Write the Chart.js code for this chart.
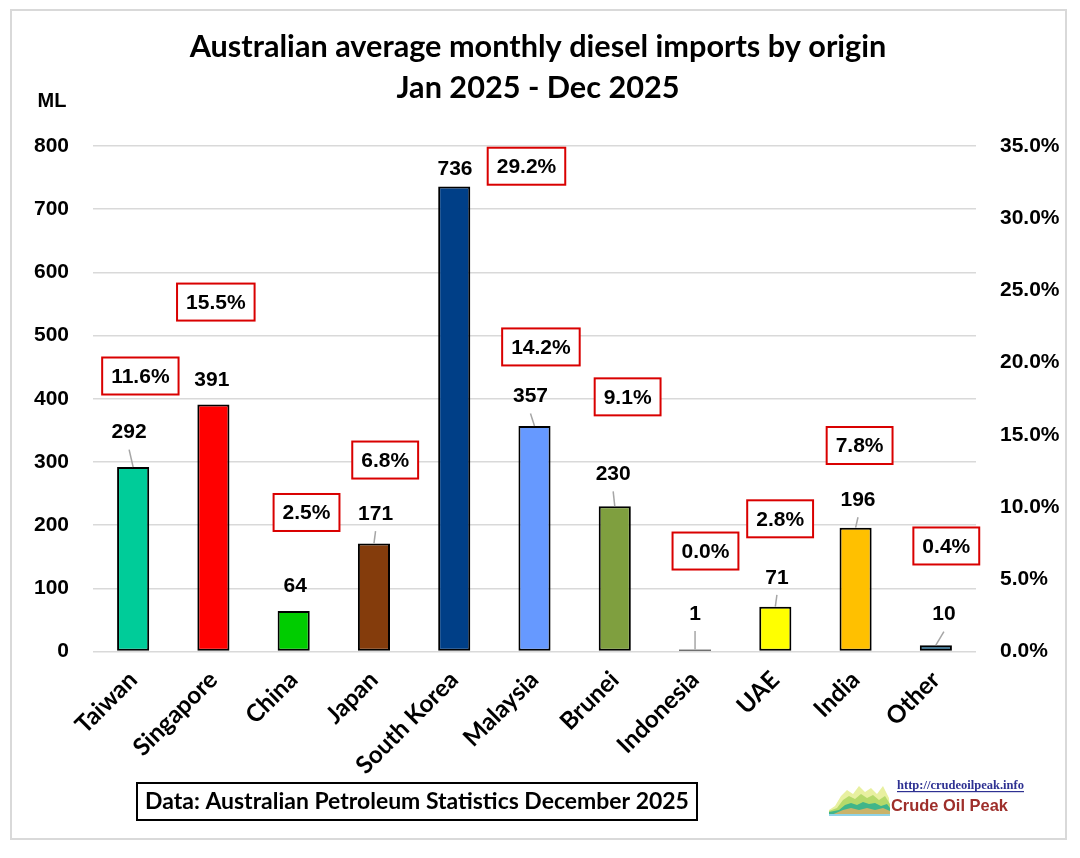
<!DOCTYPE html>
<html><head><meta charset="utf-8">
<script src="https://cdn.jsdelivr.net/npm/chart.js@4.4.1/dist/chart.umd.min.js"></script>
<style>html,body{margin:0;padding:0;background:#fff;overflow:hidden}</style>
</head><body>
<canvas id="c" width="1080" height="858" style="width:1080px;height:858px;display:block"></canvas>
<script>
// ---------- data ----------
const categories = ['Taiwan','Singapore','China','Japan','South Korea','Malaysia','Brunei','Indonesia','UAE','India','Other'];
const importsML = [292, 391, 64, 171, 736, 357, 230, 1, 71, 196, 10];
const sharePct = [11.6, 15.5, 2.5, 6.8, 29.2, 14.2, 9.1, 0.0, 2.8, 7.8, 0.4];
const leftTicks = [0, 100, 200, 300, 400, 500, 600, 700, 800];
const rightTicks = [0, 5, 10, 15, 20, 25, 30, 35];
const titleLines = ['Australian average monthly diesel imports by origin', 'Jan 2025 - Dec 2025'];
const sourceText = 'Data: Australian Petroleum Statistics December 2025';

// ---------- styles / label placement (kept apart from data) ----------
const barColors = ['#00CC99','#FF0000','#00CC00','#843C0C','#003F87','#6699FF','#7F9F3F','#1F1F1F','#FFFF00','#FFC000','#1F5F82'];
const valueLabelY = [348, 431, 105, 219, 765, 405, 282, 61, 118, 241, 60];      // in ML axis units
const valueLabelShift = [-0.05, -0.02, 0.02, 0.02, 0.01, -0.05, -0.02, 0, 0.02, 0.03, 0.1]; // fraction of category
const shareBoxY = [436, 553, 220, 303, 768, 482, 403, 159, 210, 326, 167];       // in ML axis units
const shareBoxShift = [0.09, 0.03, 0.16, 0.14, 0.9, 0.08, 0.16, 0.13, 0.06, 0.05, 0.13];

const SANS = 'Lato, "Open Sans", sans-serif';
const ARIAL = '"Liberation Sans", Arial, sans-serif';

function fitSize(text, weight, family, target) {
  const cx = document.createElement('canvas').getContext('2d');
  cx.font = weight + ' 100px ' + family;
  return 100 * target / cx.measureText(text).width;
}
const titleSize = fitSize(titleLines[0], 'bold', SANS, 697);
const sourceSize = fitSize(sourceText, 'bold', SANS, 544);
const catSize = fitSize('South Korea', 'bold', SANS, 133);
const urlSize = fitSize('http://crudeoilpeak.info', 'bold', '"Liberation Serif", serif', 127);
const copSize = fitSize('Crude Oil Peak', 'bold', '"Liberation Sans Narrow", ' + ARIAL, 117);

const decor = {
  id: 'decor',
  afterDraw(chart) {
    const ctx = chart.ctx;
    const x = chart.scales.x, y = chart.scales.y;
    const catW = (x.right - x.left) / categories.length;
    const meta = chart.getDatasetMeta(0);
    ctx.save();
    // outer frame
    ctx.strokeStyle = '#D9D9D9'; ctx.lineWidth = 2;
    ctx.strokeRect(11, 10, 1055, 829);
    // title
    ctx.fillStyle = '#000'; ctx.textAlign = 'center'; ctx.textBaseline = 'alphabetic';
    ctx.font = 'bold ' + titleSize.toFixed(2) + 'px ' + SANS;
    ctx.fillText(titleLines[0], 538, 57);
    ctx.fillText(titleLines[1], 538, 98);
    // ML unit
    ctx.font = 'bold 20px ' + ARIAL;
    ctx.fillText('ML', 52, 107);
    // leader lines + value labels
    ctx.font = 'bold 21px ' + ARIAL;
    ctx.textBaseline = 'middle';
    importsML.forEach((v, i) => {
      const bx = x.getPixelForValue(i);
      const top = meta.data[i].y;
      const lx = bx + valueLabelShift[i] * catW;
      const ly = y.getPixelForValue(valueLabelY[i]);
      if (top - ly > 27) {
        ctx.strokeStyle = '#A6A6A6'; ctx.lineWidth = 1.5;
        ctx.beginPath(); ctx.moveTo(lx, ly + 18); ctx.lineTo(bx, top); ctx.stroke();
      }
      ctx.fillStyle = '#000';
      ctx.fillText(String(v), lx, ly + 1);
    });
    // share boxes
    sharePct.forEach((p, i) => {
      const t = p.toFixed(1) + '%';
      const cxp = x.getPixelForValue(i) + shareBoxShift[i] * catW;
      const cyp = y.getPixelForValue(shareBoxY[i]);
      const w = ctx.measureText(t).width + 18, h = 37;
      ctx.fillStyle = '#fff';
      ctx.fillRect(cxp - w / 2, cyp - h / 2, w, h);
      ctx.strokeStyle = '#D90000'; ctx.lineWidth = 2;
      ctx.strokeRect(cxp - w / 2, cyp - h / 2, w, h);
      ctx.fillStyle = '#000';
      ctx.fillText(t, cxp, cyp + 1);
    });
    // source box
    ctx.strokeStyle = '#000'; ctx.lineWidth = 2;
    ctx.strokeRect(137, 783, 560, 37);
    ctx.font = 'bold ' + sourceSize.toFixed(2) + 'px ' + SANS;
    ctx.textBaseline = 'alphabetic';
    ctx.fillText(sourceText, 417, 809);
    // logo graphic
    const gx = 829, gy = 816;
    const layers = [
      ['#E8F0A0', [0,-6,6,-10,12,-20,18,-26,24,-22,30,-30,36,-24,42,-28,48,-22,54,-30,60,-18,61,0]],
      ['#B5D96A', [0,-5,8,-8,14,-16,20,-20,26,-17,32,-22,38,-18,44,-21,50,-16,56,-20,61,-12,61,0]],
      ['#3FB58A', [0,-4,10,-6,16,-11,22,-13,28,-11,34,-14,40,-12,46,-13,52,-10,58,-12,61,-8,61,0]],
      ['#C9B36A', [14,-6,22,-8,30,-6,38,-8,46,-6,54,-8,61,-5,61,0]],
      ['#8FD3E8', [0,-2,61,-2,61,0]]
    ];
    layers.forEach(([col, pts]) => {
      ctx.fillStyle = col; ctx.beginPath(); ctx.moveTo(gx, gy);
      for (let k = 0; k < pts.length; k += 2) ctx.lineTo(gx + pts[k], gy + pts[k + 1]);
      ctx.closePath(); ctx.fill();
    });
    ctx.textAlign = 'left';
    ctx.fillStyle = '#2E3192';
    ctx.font = 'bold ' + urlSize.toFixed(2) + 'px "Liberation Serif", serif';
    ctx.fillText('http://crudeoilpeak.info', 897, 789);
    ctx.fillRect(897, 791, 127, 1.2);
    ctx.fillStyle = '#9E2F2B';
    ctx.font = 'bold ' + copSize.toFixed(2) + 'px "Liberation Sans Narrow", ' + ARIAL;
    ctx.fillText('Crude Oil Peak', 891, 811);
    ctx.restore();
  }
};

new Chart(document.getElementById('c'), {
  type: 'bar',
  data: {
    labels: categories,
    datasets: [{
      data: importsML,
      backgroundColor: barColors,
      borderColor: '#000',
      borderWidth: 2,
      borderSkipped: false,
      minBarLength: 2,
      barPercentage: 0.4,
      categoryPercentage: 1.0,
      yAxisID: 'y'
    }]
  },
  options: {
    responsive: false,
    animation: false,
    devicePixelRatio: 1,
    layout: { padding: { top: 146, left: 0, right: 0, bottom: 0 } },
    plugins: { legend: { display: false }, tooltip: { enabled: false }, title: { display: false } },
    scales: {
      x: {
        grid: { display: false },
        border: { display: false },
        ticks: {
          color: '#000', font: { family: SANS, weight: 'bold', size: catSize },
          minRotation: 45, maxRotation: 45, padding: 6
        },
        afterFit(s) { s.height = 206.5; }
      },
      y: {
        position: 'left', min: 0, max: 800,
        afterBuildTicks(s) { s.ticks = leftTicks.map(v => ({ value: v })); },
        grid: { color: '#D9D9D9', lineWidth: 1.5, drawTicks: false },
        border: { display: false },
        ticks: { color: '#000', font: { family: ARIAL, weight: 'bold', size: 21 }, padding: 24 },
        afterFit(s) { s.width = 93; }
      },
      y1: {
        position: 'right', min: 0, max: 35,
        afterBuildTicks(s) { s.ticks = rightTicks.map(v => ({ value: v })); },
        grid: { display: false, drawTicks: false },
        border: { display: false },
        ticks: { color: '#000', font: { family: ARIAL, weight: 'bold', size: 21 }, padding: 24,
                 callback: v => Number(v).toFixed(1) + '%' },
        afterFit(s) { s.width = 104; }
      }
    }
  },
  plugins: [decor]
});
</script>
</body></html>
